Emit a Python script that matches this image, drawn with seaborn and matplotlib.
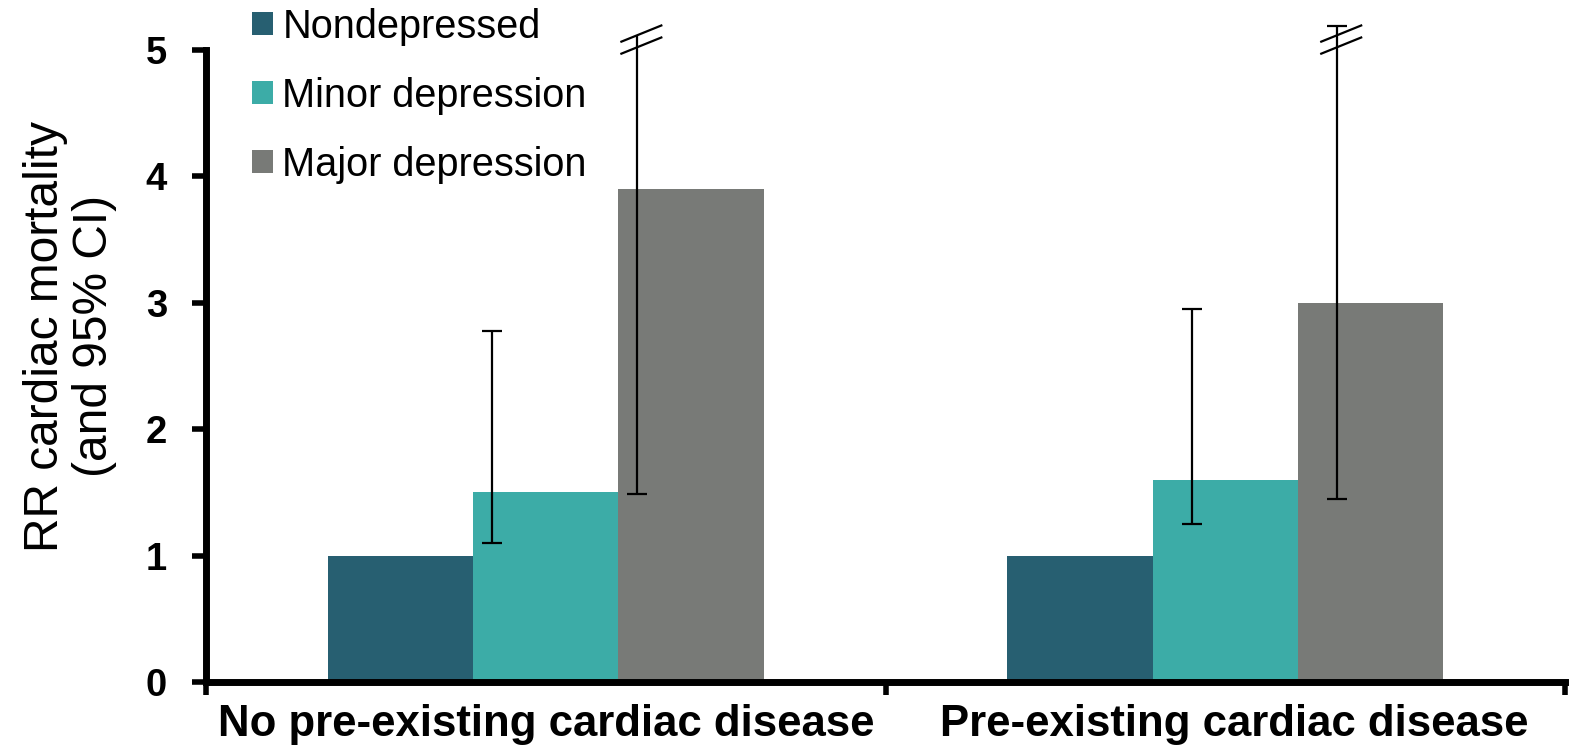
import matplotlib
matplotlib.use("Agg")
import matplotlib.pyplot as plt
import matplotlib.transforms as mtransforms
import seaborn as sns
import pandas as pd

# ---- data ----
conditions = ["No pre-existing cardiac disease", "Pre-existing cardiac disease"]
groups = ["Nondepressed", "Minor depression", "Major depression"]
rr_nondepressed = [1.0, 1.0]
rr_minor = [1.5, 1.6]
rr_major = [3.9, 3.0]
ci_low_minor = [1.10, 1.25]
ci_high_minor = [2.78, 2.95]
ci_low_major = [1.49, 1.45]
ci_high_major = [5.12, 5.19]
y_ticks = [0, 1, 2, 3, 4, 5]
y_tick_labels = ["0", "1", "2", "3", "4", "5"]

# ---- style ----
colors = ["#275F71", "#3CACA7", "#787A77"]
err_offset = [-0.37, -0.23]      # errorbar offset (fraction of bar width) per condition
top_cap_major = [False, True]
label_shift_px = [0, 9]

sns.set_theme(style="white")
plt.rcParams['font.family'] = ['Liberation Sans', 'DejaVu Sans']
plt.rcParams['text.color'] = 'black'
plt.rcParams['axes.labelcolor'] = 'black'
plt.rcParams['xtick.color'] = 'black'
plt.rcParams['ytick.color'] = 'black'

df = pd.DataFrame({
    "condition": conditions * 3,
    "group": [g for g in groups for _ in conditions],
    "rr": rr_nondepressed + rr_minor + rr_major,
})

W, H = 1577, 751
fig = plt.figure(figsize=(W / 100, H / 100), dpi=100)
ax = fig.add_axes([206 / W, 1 - 682 / H, (1565 - 206) / W, (682 - 50) / H])

sns.barplot(data=df, x="condition", y="rr", hue="group", order=conditions,
            hue_order=groups, palette=colors, saturation=1, width=0.642,
            errorbar=None, linewidth=0, ax=ax)

ax.set_xlim(-0.5, 1.5)
ax.set_ylim(0, 5)

ci = {1: (ci_low_minor, ci_high_minor), 2: (ci_low_major, ci_high_major)}
px_x = (1565 - 206) / 2.0   # pixels per x unit
px_y = (682 - 50) / 5.0     # pixels per y unit
for gi in (1, 2):
    lows, highs = ci[gi]
    for j, bar in enumerate(ax.containers[gi]):
        x = bar.get_x() + bar.get_width() / 2 + err_offset[j] * bar.get_width()
        lo, hi = lows[j], highs[j]
        ax.vlines(x, lo, hi, color="black", lw=1.6, clip_on=False, zorder=5)
        ax.plot([x], [lo], marker="_", ms=14, mew=1.6, color="black", clip_on=False, zorder=5)
        if gi == 1 or top_cap_major[j]:
            ax.plot([x], [hi], marker="_", ms=14, mew=1.6, color="black", clip_on=False, zorder=5)
        if gi == 2:
            # axis-break marks
            dx = 21 / px_x
            dy = 8.5 / px_y
            xc = x + 4 / px_x
            for yc in (5.035, 5.13):
                ax.plot([xc - dx, xc + dx], [yc - dy, yc + dy], color="black", lw=1.6,
                        clip_on=False, zorder=6, solid_capstyle="butt")

# spines
for s in ("top", "right"):
    ax.spines[s].set_visible(False)
for s in ("left", "bottom"):
    ax.spines[s].set_linewidth(5)
    ax.spines[s].set_color("black")
    ax.spines[s].set_capstyle("projecting")

# ticks
ax.set_yticks(y_ticks)
ax.set_yticklabels(y_tick_labels, fontsize=27.5, fontweight="bold")
ax.tick_params(axis="y", direction="out", length=10, width=4, color="black", pad=18, left=True)
ax.set_xticks([0, 1])
ax.set_xticklabels(conditions, fontsize=31.5, fontweight="bold")
ax.set_xticks([-0.5, 0.5, 1.5], minor=True)
ax.tick_params(axis="x", which="major", length=0, pad=16)
ax.tick_params(axis="x", which="minor", direction="out", length=9, width=4, color="black", bottom=True)
for lab, sh in zip(ax.get_xticklabels(), label_shift_px):
    lab.set_transform(lab.get_transform() +
                      mtransforms.ScaledTranslation(sh / 100, 0, fig.dpi_scale_trans))

ax.set_xlabel("")
ax.set_ylabel("RR cardiac mortality\n(and 95% CI)", fontsize=34.5, linespacing=1.12)
ax.yaxis.set_label_coords(-0.0655, 0.547)

handles, labels = ax.get_legend_handles_labels()
ax.legend(handles, labels, loc="upper left", bbox_to_anchor=(0.034, 1.067), frameon=False,
          fontsize=28.6, handlelength=0.53, handleheight=0.53, handletextpad=0.23,
          labelspacing=0.78, borderpad=0, borderaxespad=0)

fig.savefig("out.png", dpi=100)
